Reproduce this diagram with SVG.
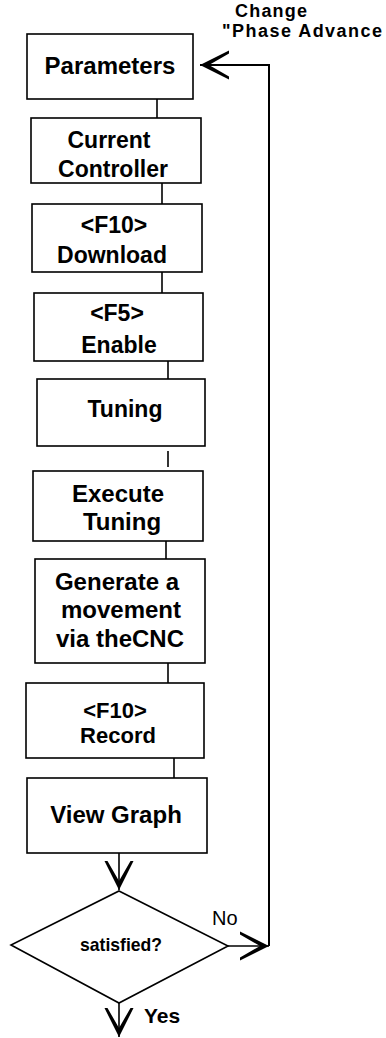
<svg xmlns="http://www.w3.org/2000/svg" width="386" height="1038" viewBox="0 0 386 1038">
<style>
  .box { fill: #ffffff; stroke: #000000; stroke-width: 1.6; }
  .t { font-family: "Liberation Sans", Arial, sans-serif; font-weight: bold; font-size: 23px; fill: #000000; text-anchor: middle; }
  .lbl { font-family: "Liberation Sans", Arial, sans-serif; font-size: 20px; fill: #000000; }
  .con { fill: none; stroke: #000000; stroke-width: 1.6; }
  .loop { fill: none; stroke: #000000; stroke-width: 2; }
</style>
<defs>
  <marker id="arr" markerUnits="userSpaceOnUse" markerWidth="34" markerHeight="34" viewBox="-32 -17 34 34" refX="0" refY="0" orient="auto">
    <path d="M0,0 L-29,-14.5 L-29,-11.5 L-9,0 L-29,11.5 L-29,14.5 Z" fill="#000000"/>
  </marker>
</defs>
<rect width="386" height="1038" fill="#ffffff"/>

<g id="connectors">
  <path class="con" d="M157,99 V118"/>
  <path class="con" d="M162,183 V204"/>
  <path class="con" d="M162,272 V293"/>
  <path class="con" d="M168,361 V379"/>
  <path class="con" d="M168,451 V467"/>
  <path class="con" d="M166,541 V559"/>
  <path class="con" d="M168,663 V683"/>
  <path class="con" d="M174,758 V778"/>
  <path class="con" d="M119,853 V890" marker-end="url(#arr)"/>
  <path class="con" d="M119,1003 V1037" marker-end="url(#arr)"/>
  <path class="con" d="M228,946 H269" marker-end="url(#arr)"/>
  <path class="loop" d="M269,946 V65 H200" marker-end="url(#arr)"/>
</g>

<g id="parameters">
  <rect class="box" x="27" y="34" width="166" height="65"/>
  <text class="t" x="110" y="74" style="font-size:24px">Parameters</text>
</g>

<g id="current-controller">
  <rect class="box" x="31" y="118" width="170" height="65"/>
  <text class="t" x="109" y="148">Current</text>
  <text class="t" x="113" y="177">Controller</text>
</g>

<g id="download">
  <rect class="box" x="32" y="204" width="170" height="68"/>
  <text class="t" x="114" y="233">&lt;F10&gt;</text>
  <text class="t" x="112" y="263">Download</text>
</g>

<g id="enable">
  <rect class="box" x="34" y="293" width="169" height="68"/>
  <text class="t" x="117" y="321">&lt;F5&gt;</text>
  <text class="t" x="119" y="353">Enable</text>
</g>

<g id="tuning">
  <rect class="box" x="37" y="379" width="168" height="67"/>
  <text class="t" x="125" y="417">Tuning</text>
</g>

<g id="execute-tuning">
  <rect class="box" x="33" y="471" width="170" height="70"/>
  <text class="t" x="118" y="502" style="font-size:24px">Execute</text>
  <text class="t" x="122" y="530" style="font-size:24px">Tuning</text>
</g>

<g id="generate-movement">
  <rect class="box" x="35" y="559" width="170" height="104"/>
  <text class="t" x="117" y="590" style="font-size:24px">Generate a</text>
  <text class="t" x="121" y="618" style="font-size:24px">movement</text>
  <text class="t" x="120" y="647" style="font-size:24px">via theCNC</text>
</g>

<g id="record">
  <rect class="box" x="26" y="683" width="178" height="75"/>
  <text class="t" x="115" y="718" style="font-size:22px">&lt;F10&gt;</text>
  <text class="t" x="118" y="743" style="font-size:22px">Record</text>
</g>

<g id="view-graph">
  <rect class="box" x="27" y="778" width="180" height="75"/>
  <text class="t" x="116" y="823" style="font-size:24px">View Graph</text>
</g>

<g id="satisfied">
  <path class="box" d="M119,891 L228,946 L119,1003 L11,945 Z"/>
  <text class="t" x="121" y="951" style="font-size:19px" textLength="82" lengthAdjust="spacingAndGlyphs">satisfied?</text>
</g>

<g id="labels">
  <text class="lbl" x="235" y="17" style="font-size:18px;font-weight:bold" textLength="72" lengthAdjust="spacing">Change</text>
  <text class="lbl" x="222" y="37" style="font-size:18px;font-weight:bold" textLength="160" lengthAdjust="spacing">"Phase Advance</text>
  <text class="lbl" x="212" y="925" style="font-size:20px">No</text>
  <text class="lbl" x="144" y="1023" style="font-size:21px;font-weight:bold">Yes</text>
</g>
</svg>
